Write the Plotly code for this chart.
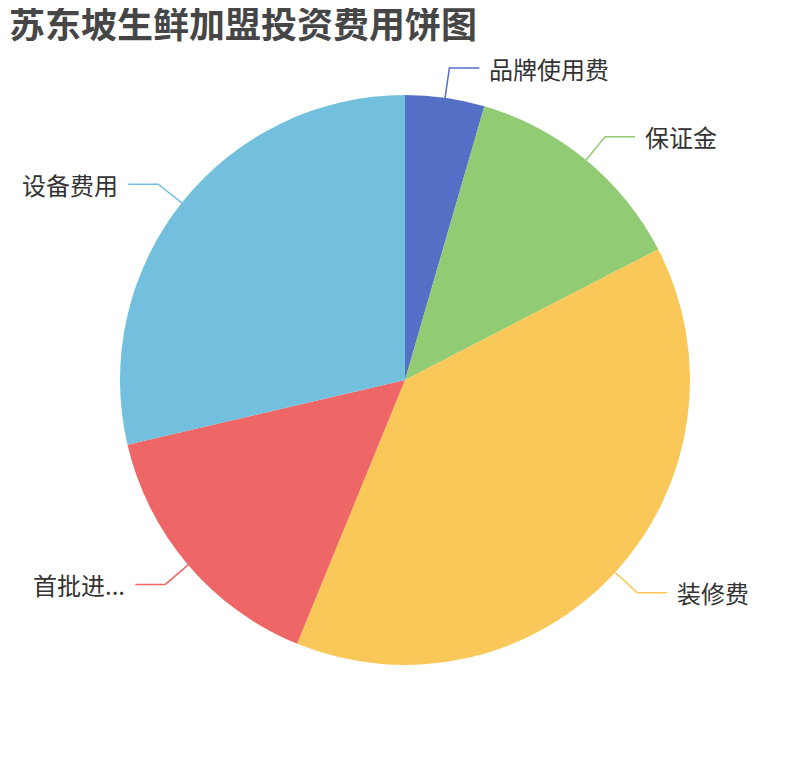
import math
import plotly.graph_objects as go

# Investment cost items (万元)
categories = ['品牌使用费', '保证金', '装修费', '首批进货费', '设备费用']
amounts = [0.8, 2.3, 6.9, 2.7, 5.1]
colors = ['#5470c6', '#91cc75', '#fac858', '#ee6666', '#73c0de']

title_text = '苏东坡生鲜加盟投资费用饼图'

W, H = 810, 760
PAGE_OFFSET = 8  # default body margin of the page
CX, CY, R = 405 - PAGE_OFFSET, 380 - PAGE_OFFSET, 285


def short_label(name, left_side):
    # long names on the left get clipped like the original
    if left_side and len(name) > 4:
        return name[:3] + '...'
    return name


fig = go.Figure()

fig.add_trace(go.Pie(
    labels=categories,
    values=amounts,
    marker=dict(colors=colors, line=dict(width=0)),
    sort=False,
    direction='clockwise',
    rotation=0,
    textinfo='none',
    hoverinfo='label+value+percent',
    showlegend=False,
    domain=dict(x=[(CX - R) / W, (CX + R) / W],
                y=[(H - CY - R) / H, (H - CY + R) / H]),
))

# Outside labels with two-segment leader lines
total = sum(amounts)
cum = 0
shapes = []
annotations = []
for name, val, col in zip(categories, amounts, colors):
    mid = (cum + val / 2) / total * 2 * math.pi
    cum += val
    sx, sy = CX + R * math.sin(mid), CY - R * math.cos(mid)
    bx, by = CX + (R + 30) * math.sin(mid), CY - (R + 30) * math.cos(mid)
    right = math.sin(mid) >= 0
    ex = bx + 30 if right else bx - 30
    path = 'M {:.4f},{:.4f} L {:.4f},{:.4f} L {:.4f},{:.4f}'.format(
        sx / W, 1 - sy / H, bx / W, 1 - by / H, ex / W, 1 - by / H)
    shapes.append(dict(type='path', path=path, xref='paper', yref='paper',
                       line=dict(color=col, width=1.5)))
    annotations.append(dict(
        text=short_label(name, not right),
        x=ex / W, y=1 - by / H, xref='paper', yref='paper',
        xanchor='left' if right else 'right', yanchor='middle',
        xshift=8 if right else -8,
        showarrow=False,
        font=dict(size=24, color='#333333', family='Noto Sans CJK SC'),
    ))

fig.update_layout(
    width=W,
    height=H,
    margin=dict(l=0, r=0, t=0, b=0),
    paper_bgcolor='white',
    plot_bgcolor='white',
    title=dict(
        text='<b>' + title_text + '</b>',
        x=1 / W, xanchor='left',
        y=1 - (25 - PAGE_OFFSET) / H, yanchor='middle',
        font=dict(size=36, color='#464646', family='Noto Sans CJK SC'),
    ),
    shapes=shapes,
    annotations=annotations,
)

fig.write_html('out.html')
